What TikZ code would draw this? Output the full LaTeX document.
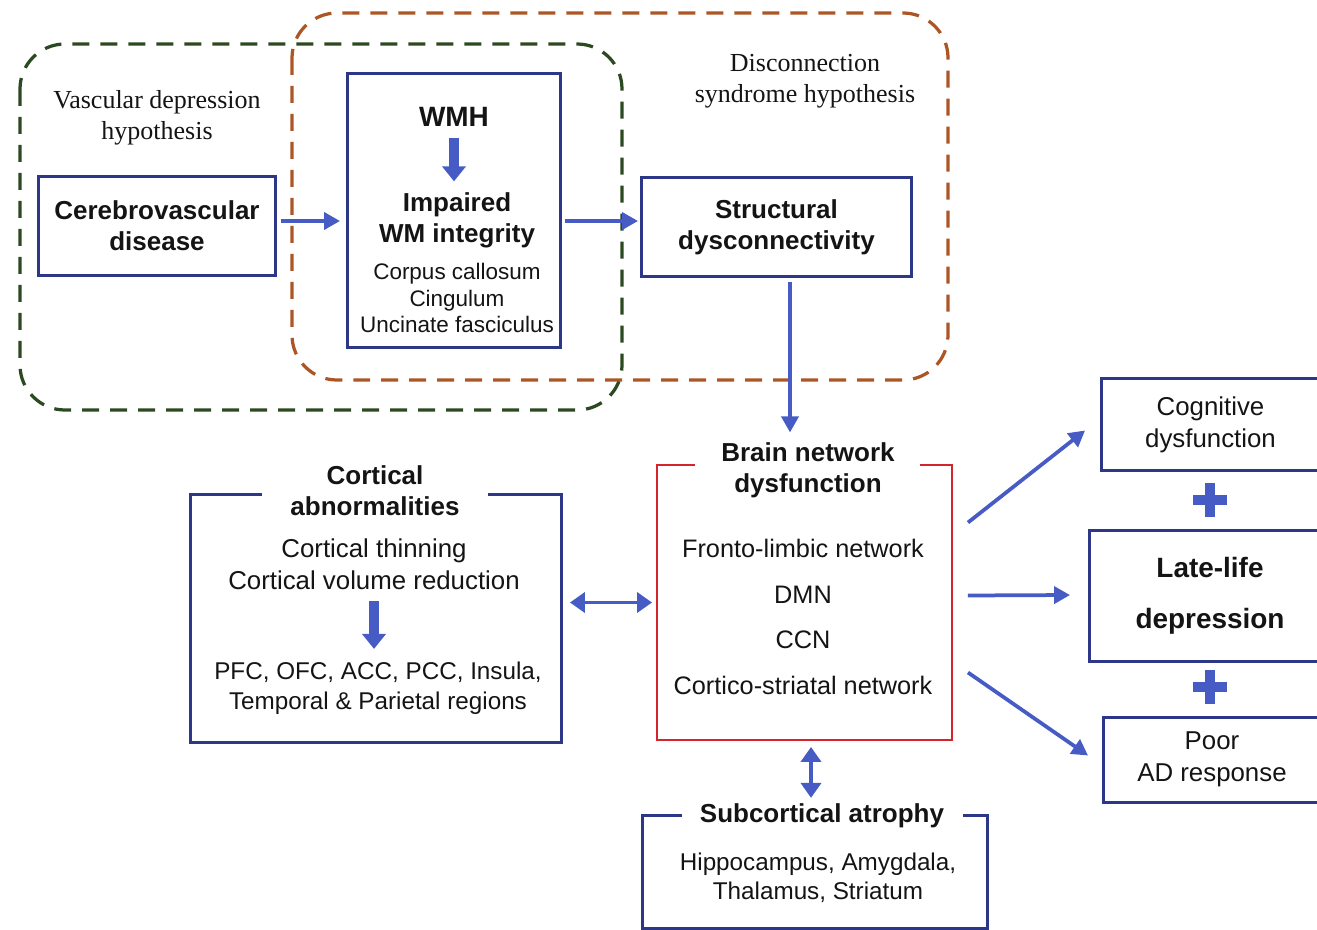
\documentclass[tikz,border=0pt]{standalone}
\usepackage{fontspec}
\setmainfont{Liberation Serif}
\setsansfont{Liberation Sans}
\usetikzlibrary{arrows.meta}

\definecolor{ldtext}{RGB}{20,20,20}
\definecolor{ldnavy}{RGB}{44,55,135}
\definecolor{ldblue}{RGB}{70,92,196}
\definecolor{ldred}{RGB}{214,36,44}
\definecolor{ldgreen}{RGB}{44,74,34}
\definecolor{ldrust}{RGB}{172,86,38}

\begin{document}
\begin{tikzpicture}[
  x=0.02cm,
  y=-0.02cm,
  every node/.style={inner sep=0pt, outer sep=0pt},
  ldBold/.style={font=\sffamily\bfseries\fontsize{14.8}{17.6}\selectfont, text=ldtext, align=center},
  ldBig/.style={font=\sffamily\bfseries\fontsize{15.9}{29}\selectfont, text=ldtext, align=center},
  ldText/.style={font=\sffamily\fontsize{14.7}{18.1}\selectfont, text=ldtext, align=center},
  ldNet/.style={font=\sffamily\fontsize{14.4}{25.9}\selectfont, text=ldtext, align=center},
  ldSmall/.style={font=\sffamily\fontsize{13.8}{16.8}\selectfont, text=ldtext, align=center},
  ldTiny/.style={font=\sffamily\fontsize{12.8}{15}\selectfont, text=ldtext, align=center},
  ldHyp/.style={font=\rmfamily\fontsize{14.8}{17.6}\selectfont, text=ldtext, align=center},
  ldBox/.style={draw=ldnavy, line width=0.06cm},
  ldFrame/.style={draw=ldnavy, line width=0.06cm},
  ldRedFrame/.style={draw=ldred, line width=0.05cm},
  ldGreen/.style={draw=ldgreen, line width=0.065cm, rounded corners=0.9cm, dash pattern=on 0.34cm off 0.22cm},
  ldOrange/.style={draw=ldrust, line width=0.065cm, rounded corners=0.9cm, dash pattern=on 0.34cm off 0.22cm},
  ldFlow/.style={draw=ldblue, line width=0.075cm, -{Triangle[length=0.32cm, width=0.34cm]}},
  ldBoth/.style={draw=ldblue, line width=0.075cm, {Triangle[length=0.3cm, width=0.4cm]}-{Triangle[length=0.3cm, width=0.4cm]}},
  ldBlock/.style={draw=ldblue, line width=0.2cm, -{Triangle[length=0.3cm, width=0.46cm]}},
  ldPlus/.style={draw=ldblue, line width=0.2cm}
]

  \path[use as bounding box] (0,0) rectangle (1317,929);
  \clip (0,0) rectangle (1317,929);

  % hypothesis regions
  \draw[ldGreen] (20,44) rectangle (622,410);
  \draw[ldOrange] (292,13) rectangle (948,380);

  \node[ldHyp] (vascHyp) at (157,118) {Vascular depression\\hypothesis};
  \node[ldHyp] (discHyp) at (805,81) {Disconnection\\syndrome hypothesis};

  % upper chain
  \node[ldBox, ldBold, minimum width=4.76cm, minimum height=2cm] (cvd) at (157,226) {Cerebrovascular\\disease};

  \node[ldBox, minimum width=4.28cm, minimum height=5.5cm] (wm) at (454,210.5) {};
  \node[ldBig] (wmh) at (454,117) {WMH};
  \node[ldBold] (wmImp) at (457,220) {Impaired\\WM integrity};
  \node[ldTiny] (wmTracts) at (457,298) {Corpus callosum\\Cingulum\\Uncinate fasciculus};
  \draw[ldBlock, shorten <=0.22cm, shorten >=0.22cm] (wmh.south) -- (wmh.south |- wmImp.north);

  \node[ldBox, ldBold, minimum width=5.42cm, minimum height=2cm] (sdc) at (776.5,227) {Structural\\dysconnectivity};

  \coordinate (cvdOut) at ([yshift=0.1cm]cvd.east);
  \coordinate (wmOut) at (wm.east |- cvdOut);
  \draw[ldFlow, shorten <=0.1cm, shorten >=0.14cm] (cvdOut) -- (cvdOut -| wm.west);
  \draw[ldFlow, shorten <=0.08cm, shorten >=0.06cm] (wmOut) -- (wmOut -| sdc.west);

  % brain network dysfunction
  \node[minimum width=5.9cm, minimum height=5.5cm] (brain) at (804.5,602.5) {};
  \draw[ldRedFrame] ([xshift=0.76cm]brain.north west) -- (brain.north west) -- (brain.south west)
    -- (brain.south east) -- (brain.north east) -- ([xshift=-0.64cm]brain.north east);
  \node[ldBold] (brainT) at (808,470) {Brain network\\dysfunction};
  \node[ldNet] (brainNets) at (803,617) {Fronto-limbic network\\DMN\\CCN\\Cortico-striatal network};

  \coordinate (sdcOut) at ([xshift=0.27cm]sdc.south);
  \draw[ldFlow, shorten <=0.1cm, shorten >=0.2cm] (sdcOut) -- (sdcOut |- brainT.north);

  % cortical abnormalities
  \node[minimum width=7.44cm, minimum height=4.98cm] (cort) at (376,618.5) {};
  \draw[ldFrame] ([xshift=1.44cm]cort.north west) -- (cort.north west) -- (cort.south west)
    -- (cort.south east) -- (cort.north east) -- ([xshift=-1.48cm]cort.north east);
  \node[ldBold] (cortT) at (375,491) {Cortical\\abnormalities};
  \node[ldText] (cortLoss) at (374,564) {Cortical thinning\\Cortical volume reduction};
  \node[ldSmall] (cortReg) at (378,688) {PFC, OFC, ACC, PCC, Insula,\\Temporal \& Parietal regions};
  \draw[ldBlock, shorten <=0.24cm, shorten >=0.26cm] (cortLoss.south) -- (cortLoss.south |- cortReg.north);

  \draw[ldBoth, shorten <=0.16cm, shorten >=0.1cm] (cort.east |- brain.west) -- (brain.west);

  % subcortical atrophy
  \node[minimum width=6.92cm, minimum height=2.26cm] (sub) at (815,871.5) {};
  \draw[ldFrame] ([xshift=0.8cm]sub.north west) -- (sub.north west) -- (sub.south west)
    -- (sub.south east) -- (sub.north east) -- ([xshift=-0.5cm]sub.north east);
  \node[ldBold] (subT) at (822,816) {Subcortical atrophy};
  \node[ldSmall, font=\sffamily\fontsize{13.8}{16.4}\selectfont] (subRegs) at (818,878) {Hippocampus, Amygdala,\\Thalamus, Striatum};

  \coordinate (brainOut) at ([xshift=0.13cm]brain.south);
  \draw[ldBoth, shorten <=0.14cm, shorten >=0.12cm] (brainOut) -- (brainOut |- subT.north);

  % outcomes
  \node[ldBox, ldText, minimum width=4.38cm, minimum height=1.86cm] (cog) at (1210.5,424.5) {Cognitive\\dysfunction};
  \node[ldBox, ldBig, minimum width=4.84cm, minimum height=2.64cm] (lld) at (1210,596) {Late-life\\depression};
  \node[ldBox, ldText, minimum width=4.36cm, minimum height=1.7cm] (poor) at (1212,759.5) {Poor\\AD response};

  \draw[ldPlus] (1210,483) -- (1210,517) (1193,500) -- (1227,500);
  \draw[ldPlus] (1210,670) -- (1210,704) (1193,687) -- (1227,687);

  \draw[ldFlow] ([shift={(16,-80)}]brain.east) -- ([shift={(-16,6)}]cog.west);
  \draw[ldFlow] ([shift={(16,-7)}]brain.east) -- ([shift={(-19,-1)}]lld.west);
  \draw[ldFlow] ([shift={(16,70)}]brain.east) -- ([shift={(-15,-4)}]poor.west);

\end{tikzpicture}
\end{document}
